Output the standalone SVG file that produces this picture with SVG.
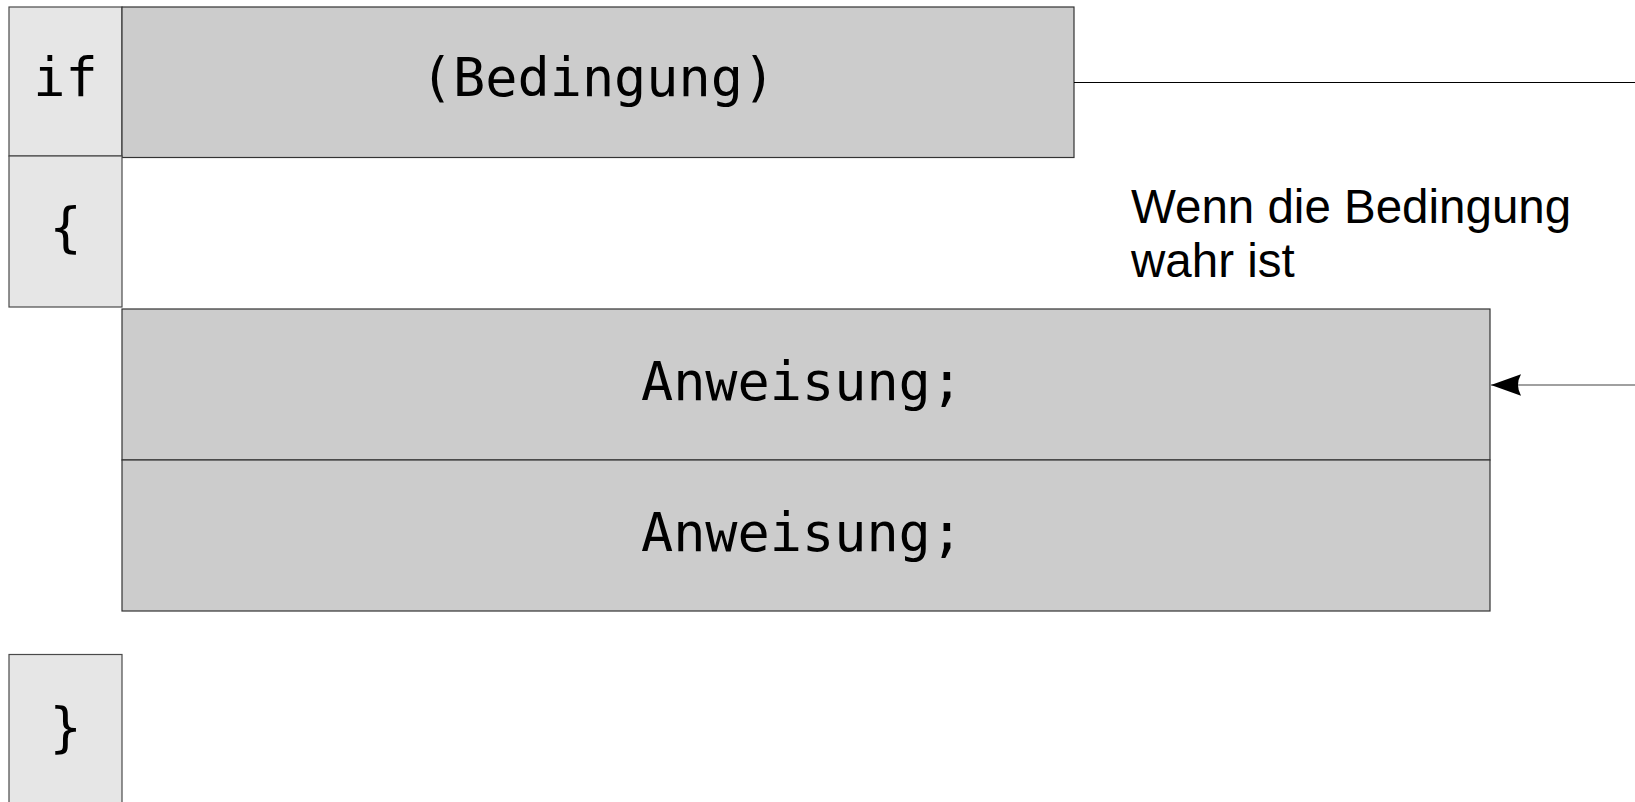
<svg xmlns="http://www.w3.org/2000/svg" width="1635" height="802" viewBox="0 0 1635 802">
<style>
.kw{fill:#e6e6e6;stroke:#4a4a4a;stroke-width:1.2}
.blk{fill:#cccccc;stroke:#333333;stroke-width:1.2}
.code{font-family:"DejaVu Sans Mono","Liberation Mono",monospace;font-size:53.5px;fill:#000;text-anchor:middle}
.lbl{font-family:"Liberation Sans",Arial,sans-serif;font-size:47.5px;fill:#000}
</style>
<defs>
<marker id="arr" markerUnits="userSpaceOnUse" markerWidth="32" markerHeight="24" refX="30" refY="12" orient="auto" viewBox="0 0 32 24">
<path d="M30,12 L0,1.3 Q6,12 0,22.7 Z" fill="#000"/>
</marker>
</defs>
<rect width="1635" height="802" fill="#fff"/>
<g id="if">
<rect class="kw" x="9" y="7" width="113" height="149"/>
<text class="code" x="65.5" y="96">if</text>
</g>
<g id="bedingung">
<rect class="blk" x="122" y="7" width="952" height="150.5"/>
<text class="code" x="598" y="96">(Bedingung)</text>
</g>
<g id="open-brace">
<rect class="kw" x="9" y="156" width="113" height="151"/>
<text class="code" x="65.5" y="246">{</text>
</g>
<g id="anweisung1">
<rect class="blk" x="122" y="309" width="1368" height="151"/>
<text class="code" x="802" y="400">Anweisung;</text>
</g>
<g id="anweisung2">
<rect class="blk" x="122" y="460" width="1368" height="151"/>
<text class="code" x="802" y="551">Anweisung;</text>
</g>
<g id="close-brace">
<rect class="kw" x="9" y="654.5" width="113" height="152"/>
<text class="code" x="65.5" y="746">}</text>
</g>
<g id="label">
<text class="lbl" x="1131" y="223">Wenn die Bedingung</text>
<text class="lbl" x="1131" y="277">wahr ist</text>
</g>
<g id="connectors">
<line x1="1074" y1="82.5" x2="1635" y2="82.5" stroke="#000" stroke-width="1.2"/>
<line x1="1635" y1="385" x2="1491" y2="385" stroke="#808080" stroke-width="1.5" marker-end="url(#arr)"/>
</g>
</svg>
